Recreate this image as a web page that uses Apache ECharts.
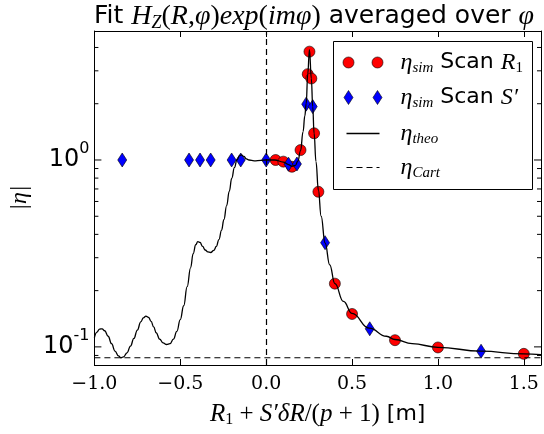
<!DOCTYPE html>
<html>
<head>
<meta charset="utf-8">
<script src="https://cdn.jsdelivr.net/npm/echarts@6/dist/echarts.min.js"></script>
<style>
  html, body { margin: 0; padding: 0; background: #fff; }
  #chart { width: 544px; height: 434px; }
</style>
</head>
<body>
<div id="chart"></div>
<script>
// eta_sim, scan over R1
var r1X = [0.055, 0.1, 0.15, 0.2, 0.242, 0.252, 0.263, 0.279, 0.304, 0.4, 0.5, 0.75, 1.0, 1.5];
var r1Y = [1.0, 0.98, 0.92, 1.13, 2.88, 3.8, 2.73, 1.39, 0.676, 0.218, 0.150, 0.1086, 0.0993, 0.0918];

// eta_sim, scan over S'
var sX = [-0.838, -0.449, -0.385, -0.323, -0.201, -0.148, 0.0, 0.13, 0.179, 0.233, 0.271, 0.343, 0.603, 1.251];
var sY = [1.0, 1.0, 1.0, 1.0, 1.0, 1.0, 1.0, 0.95, 0.952, 1.99, 1.93, 0.361, 0.125, 0.0948];

// eta_theo
var theoX = [-1.0, -0.985, -0.97, -0.955, -0.94, -0.92, -0.9, -0.88, -0.86, -0.845, -0.83, -0.81,
  -0.79, -0.77, -0.75, -0.73, -0.715, -0.7, -0.685, -0.67, -0.655, -0.64, -0.62, -0.6, -0.58,
  -0.56, -0.54, -0.52, -0.5, -0.48, -0.46, -0.44, -0.425, -0.41, -0.398, -0.385, -0.37, -0.355,
  -0.34, -0.323, -0.305, -0.29, -0.275, -0.26, -0.246, -0.23, -0.215, -0.2, -0.185, -0.17, -0.155,
  -0.145, -0.13, -0.115, -0.1, -0.07, -0.03, 0.0,
  0.05, 0.1, 0.13, 0.15, 0.17, 0.185, 0.2, 0.215, 0.225, 0.233, 0.242, 0.252, 0.263, 0.271, 0.279,
  0.29, 0.304, 0.32, 0.343, 0.37, 0.4, 0.45, 0.5, 0.6, 0.7, 0.75, 0.85, 1.0, 1.25, 1.5, 1.6];
var theoY = [0.112, 0.120, 0.1245, 0.125, 0.122, 0.114, 0.104, 0.095, 0.0895, 0.0875, 0.0885, 0.093,
  0.101, 0.111, 0.123, 0.136, 0.143, 0.146, 0.144, 0.137, 0.128, 0.119, 0.110, 0.105, 0.103,
  0.104, 0.110, 0.121, 0.140, 0.166, 0.21, 0.265, 0.315, 0.352, 0.366, 0.362, 0.345, 0.330,
  0.322, 0.320, 0.328, 0.345, 0.375, 0.42, 0.48, 0.57, 0.68, 0.80, 0.91, 1.0, 1.055,
  1.065, 1.045, 1.015, 1.0, 0.99, 0.995, 1.0,
  1.0, 0.975, 0.945, 0.925, 0.935, 0.99, 1.12, 1.42, 1.72, 2.0, 2.88, 3.9, 2.73, 1.93, 1.39,
  0.98, 0.69, 0.50, 0.36, 0.275, 0.218, 0.175, 0.151, 0.126, 0.114, 0.1095, 0.104, 0.0995, 0.0948, 0.0918, 0.091];

// eta_Cart
var cartX = [-1.0, 1.6];
var cartY = [0.0875, 0.0875];

var xTicks = [-1.0, -0.5, 0.0, 0.5, 1.0, 1.5];
var yMajorTicks = [0.1, 1];
var yMinorTicks = [0.09, 0.2, 0.3, 0.4, 0.5, 0.6, 0.7, 0.8, 0.9, 2, 3, 4];

var xMin = -1.0, xMax = 1.6, yMin = 0.08, yMax = 4.9;

function zip(xs, ys) {
  return xs.map(function (x, i) { return [x, ys[i]]; });
}

var SANS = 'DejaVu Sans';
var SERIF = 'Liberation Serif';

var titleRich = {
  s: { fontFamily: SANS, fontWeight: 'normal', fontSize: 25, color: '#000' },
  m: { fontFamily: SERIF, fontWeight: 'normal', fontStyle: 'italic', fontSize: 28, color: '#000' },
  u: { fontFamily: SERIF, fontWeight: 'normal', fontSize: 28, color: '#000' },
  sub: { fontFamily: SERIF, fontWeight: 'normal', fontStyle: 'italic', fontSize: 18, color: '#000', padding: [13, 0, 0, 0] }
};

var legendRich = {
  m: { fontFamily: SERIF, fontStyle: 'italic', fontSize: 24, fill: '#000' },
  sub: { fontFamily: SERIF, fontStyle: 'italic', fontSize: 15, fill: '#000', padding: [12, 0, 0, 0] },
  sb: { fontFamily: SERIF, fontSize: 15, fill: '#000', padding: [12, 0, 0, 0] },
  s: { fontFamily: SANS, fontSize: 22, fill: '#000' }
};

var yTickData = yMajorTicks.map(function (v) { return [1, v]; })
  .concat(yMinorTicks.map(function (v) { return [0, v]; }));

var chart = echarts.init(document.getElementById('chart'), null, { renderer: 'canvas' });

function legendText(y, text) {
  return { type: 'text', x: 67, y: y, style: { text: text, verticalAlign: 'middle', rich: legendRich } };
}

var option = {
  animation: false,
  backgroundColor: '#fff',
  title: {
    text: '{s|Fit }{m|H}{sub|Z}{u|(}{m|R}{u|,}{m|φ}{u|)}{m|exp}{u|(}{m|imφ}{u|)}{s| averaged over }{m|φ}',
    left: 89,
    top: -4,
    textStyle: { fontWeight: 'normal', rich: titleRich }
  },
  grid: { left: 93, right: 2, top: 31, bottom: 69, containLabel: false },
  xAxis: [{
    type: 'value',
    min: xMin, max: xMax, interval: 0.5,
    axisLine: { onZero: false, lineStyle: { color: '#000', width: 1 } },
    axisTick: { inside: true, length: 6, lineStyle: { color: '#000' } },
    splitLine: { show: false },
    axisLabel: {
      margin: 10,
      fontFamily: 'DejaVu Serif', fontSize: 19, color: '#000',
      formatter: function (v) {
        var ok = xTicks.some(function (t) { return Math.abs(t - v) < 1e-9; });
        if (!ok) return '';
        return (v < 0 ? '\u2212' : '') + Math.abs(v).toFixed(1);
      }
    },
    name: '{m|R}{sb|1}{u| + }{m|S′δR}{u|/(}{m|p}{u| + 1)}{s| [m]}',
    nameLocation: 'middle',
    nameGap: 36,
    nameTextStyle: {
      rich: {
        s: { fontFamily: SANS, fontSize: 22, color: '#000' },
        m: { fontFamily: SERIF, fontStyle: 'italic', fontSize: 25, color: '#000' },
        u: { fontFamily: SERIF, fontSize: 25, color: '#000' },
        sb: { fontFamily: SERIF, fontSize: 16, color: '#000', padding: [11, 0, 0, 0] }
      }
    }
  }, {
    type: 'value', position: 'top',
    min: xMin, max: xMax, interval: 0.5,
    axisLine: { onZero: false, lineStyle: { color: '#000', width: 1 } },
    axisTick: { inside: true, length: 6, lineStyle: { color: '#000' } },
    axisLabel: { show: false },
    splitLine: { show: false }
  }],
  yAxis: [{
    type: 'log', logBase: 10,
    min: yMin, max: yMax,
    axisLine: { onZero: false, lineStyle: { color: '#000', width: 1 } },
    axisTick: { show: false },
    splitLine: { show: false },
    minorTick: { show: false },
    axisLabel: {
      margin: 5,
      color: '#000',
      formatter: function (v) {
        var e = Math.log(v) / Math.LN10;
        if (Math.abs(e - Math.round(e)) > 1e-6) return '';
        return '{b|10}{p|' + Math.round(e) + '}';
      },
      rich: {
        b: { fontFamily: SANS, fontSize: 24, color: '#000' },
        p: { fontFamily: SANS, fontSize: 16, color: '#000', padding: [0, 0, 22, 0] }
      }
    },
    name: '{m||η|}',
    nameLocation: 'middle',
    nameRotate: 90,
    nameGap: 62,
    nameTextStyle: {
      rich: { m: { fontFamily: SERIF, fontStyle: 'italic', fontSize: 24, color: '#000' } }
    }
  }, {
    type: 'log', logBase: 10, position: 'right',
    min: yMin, max: yMax,
    axisLine: { onZero: false, lineStyle: { color: '#000', width: 1 } },
    axisTick: { show: false },
    axisLabel: { show: false },
    splitLine: { show: false }
  }],
  series: [{
    name: 'Scan R1',
    type: 'scatter',
    data: zip(r1X, r1Y),
    symbol: 'circle',
    symbolSize: 11,
    itemStyle: { color: '#ff0000', borderColor: '#000', borderWidth: 0.6, opacity: 1 },
    z: 3
  }, {
    name: "Scan S'",
    type: 'scatter',
    data: zip(sX, sY),
    symbol: 'diamond',
    symbolSize: [9, 14],
    itemStyle: { color: '#0000ff', borderColor: '#000', borderWidth: 0.6, opacity: 1 },
    z: 3
  }, {
    name: 'theo',
    type: 'line',
    data: zip(theoX, theoY),
    showSymbol: false,
    smooth: 0.45,
    smoothMonotone: 'x',
    lineStyle: { color: '#000', width: 1.3 },
    z: 4,
    markLine: {
      silent: true,
      symbol: 'none',
      label: { show: false },
      lineStyle: { color: '#000', width: 1.2, type: [6, 4] },
      data: [{ xAxis: 0 }]
    }
  }, {
    name: 'Cart',
    type: 'line',
    data: zip(cartX, cartY),
    showSymbol: false,
    lineStyle: { color: '#000', width: 1.2, type: [6, 4] },
    z: 4
  }, {
    name: 'yticks',
    type: 'custom',
    data: yTickData,
    encode: { x: 0, y: 1 },
    silent: true,
    z: 5,
    renderItem: function (params, api) {
      var len = api.value(0) ? 7 : 4;
      var p = api.coord([xMin, api.value(1)]);
      var q = api.coord([xMax, api.value(1)]);
      var st = { stroke: '#000', lineWidth: 1 };
      return {
        type: 'group',
        children: [
          { type: 'line', shape: { x1: p[0], y1: p[1], x2: p[0] + len, y2: p[1] }, style: st },
          { type: 'line', shape: { x1: q[0], y1: q[1], x2: q[0] - len, y2: q[1] }, style: st }
        ]
      };
    }
  }],
  graphic: [{
    type: 'group',
    left: 333, top: 41,
    z: 10,
    children: [
      { type: 'rect', shape: { x: 0, y: 0, width: 199, height: 148 },
        style: { fill: '#fff', stroke: '#000', lineWidth: 1 } },
      { type: 'circle', shape: { cx: 15, cy: 21, r: 5.5 }, style: { fill: '#ff0000', stroke: '#000', lineWidth: 0.6 } },
      { type: 'circle', shape: { cx: 44, cy: 21, r: 5.5 }, style: { fill: '#ff0000', stroke: '#000', lineWidth: 0.6 } },
      { type: 'polygon', shape: { points: [[15, 49], [19.5, 56], [15, 63], [10.5, 56]] }, style: { fill: '#0000ff', stroke: '#000', lineWidth: 0.6 } },
      { type: 'polygon', shape: { points: [[44, 49], [48.5, 56], [44, 63], [39.5, 56]] }, style: { fill: '#0000ff', stroke: '#000', lineWidth: 0.6 } },
      { type: 'line', shape: { x1: 13, y1: 92, x2: 46, y2: 92 }, style: { stroke: '#000', lineWidth: 1.3 } },
      { type: 'line', shape: { x1: 13, y1: 126, x2: 46, y2: 126 }, style: { stroke: '#000', lineWidth: 1.2, lineDash: [6, 4] } },
      legendText(21, '{m|η}{sub|sim}{s| Scan }{m|R}{sb|1}'),
      legendText(56, '{m|η}{sub|sim}{s| Scan }{m|S′}'),
      legendText(92, '{m|η}{sub|theo}'),
      legendText(126, '{m|η}{sub|Cart}')
    ]
  }]
};

chart.setOption(option);
</script>
</body>
</html>
